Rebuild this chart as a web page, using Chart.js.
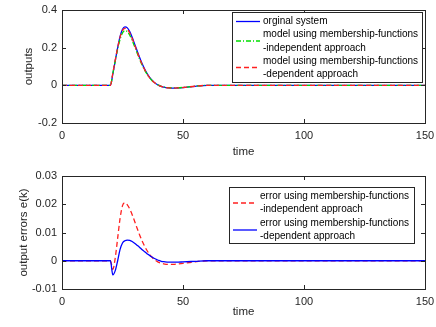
<!DOCTYPE html>
<html>
<head>
<meta charset="utf-8">
<script src="https://cdn.jsdelivr.net/npm/chart.js@4/dist/chart.umd.min.js"></script>
<style>
  body { margin: 0; background: #fff; }
  #wrap { position: relative; width: 436px; height: 327px; }
  .box { position: absolute; left: 0; width: 436px; }
</style>
</head>
<body>
<div id="wrap">
  <div class="box" style="top:0;height:163px"><canvas id="outputs"></canvas></div>
  <div class="box" style="top:163px;height:164px"><canvas id="errors"></canvas></div>
</div>
<script>
// data
const time = [0, 20, 21, 22, 23, 24, 25, 26, 27, 28, 29, 30, 31, 32, 33, 34, 35, 36, 37, 38, 39, 40, 41, 42, 44, 46, 48, 50, 55, 60, 150];
const original = [0, 0, 0.06, 0.13, 0.2, 0.26, 0.298, 0.31, 0.305, 0.285, 0.255, 0.22, 0.185, 0.15, 0.118, 0.09, 0.066, 0.046, 0.03, 0.017, 0.007, 0, -0.006, -0.01, -0.014, -0.015, -0.014, -0.012, -0.005, 0, 0];
const modelIndep = [0, 0, 0.063, 0.129, 0.192, 0.245, 0.2785, 0.2895, 0.2852, 0.2667, 0.2387, 0.206, 0.1734, 0.1407, 0.1108, 0.0846, 0.0622, 0.0435, 0.0286, 0.0165, 0.0071, 0.0006, -0.0051, -0.0089, -0.0127, -0.0137, -0.0129, -0.0111, -0.0046, 0, 0];
const modelDep = [0, 0, 0.065, 0.1335, 0.2, 0.256, 0.2917, 0.3029, 0.2977, 0.2778, 0.2482, 0.2138, 0.1795, 0.1452, 0.114, 0.0867, 0.0634, 0.044, 0.0286, 0.0161, 0.0065, -0.0001, -0.0058, -0.0097, -0.0135, -0.0145, -0.0135, -0.0116, -0.0048, 0, 0];
const errIndep = [0, 0, -0.003, 0.001, 0.008, 0.015, 0.0195, 0.0205, 0.0198, 0.0183, 0.0163, 0.014, 0.0116, 0.0093, 0.0072, 0.0054, 0.0038, 0.0025, 0.0014, 0.0005, -0.0001, -0.0006, -0.0009, -0.0011, -0.0013, -0.0013, -0.0011, -0.0009, -0.0004, 0, 0];
const errDep = [0, 0, -0.005, -0.0035, 0, 0.004, 0.0063, 0.0071, 0.0073, 0.0072, 0.0068, 0.0062, 0.0055, 0.0048, 0.004, 0.0033, 0.0026, 0.002, 0.0014, 0.0009, 0.0005, 0.0001, -0.0002, -0.0003, -0.0005, -0.0005, -0.0005, -0.0004, -0.0002, 0, 0];

const xTicks = [0, 50, 100, 150];
const outTicks = [-0.2, 0, 0.2, 0.4];
const errTicks = [-0.01, 0, 0.01, 0.02, 0.03];

const FONT = "'Liberation Sans', Arial, sans-serif";
const AX = "#262626";

const pts = (ys) => time.map((t, i) => ({ x: t, y: ys[i] }));

// box around the axes with inward tick marks (MATLAB style)
const boxPlugin = {
  id: "boxPlugin",
  afterDraw(chart) {
    const { ctx, chartArea: a, scales } = chart;
    ctx.save();
    ctx.strokeStyle = AX;
    ctx.lineWidth = 1;
    ctx.strokeRect(Math.round(a.left) + 0.5, Math.round(a.top) + 0.5, Math.round(a.right - a.left), Math.round(a.bottom - a.top));
    ctx.beginPath();
    scales.x.ticks.forEach((t) => {
      const px = Math.round(scales.x.getPixelForValue(t.value)) + 0.5;
      ctx.moveTo(px, a.bottom); ctx.lineTo(px, a.bottom - 4);
      ctx.moveTo(px, a.top); ctx.lineTo(px, a.top + 4);
    });
    scales.y.ticks.forEach((t) => {
      const py = Math.round(scales.y.getPixelForValue(t.value)) + 0.5;
      ctx.moveTo(a.left, py); ctx.lineTo(a.left + 4, py);
      ctx.moveTo(a.right, py); ctx.lineTo(a.right - 4, py);
    });
    ctx.stroke();
    ctx.restore();
  },
};

// legend box with two-line entries
const boxLegend = {
  id: "boxLegend",
  afterDraw(chart, args, opts) {
    const { ctx } = chart;
    ctx.save();
    ctx.fillStyle = "#fff";
    ctx.fillRect(opts.x, opts.y, opts.w, opts.h);
    ctx.strokeStyle = AX;
    ctx.lineWidth = 1;
    ctx.strokeRect(opts.x + 0.5, opts.y + 0.5, opts.w, opts.h);
    ctx.font = "10px " + FONT;
    ctx.textBaseline = "middle";
    ctx.fillStyle = "#000";
    opts.lines.forEach((txt, i) => {
      ctx.fillText(txt, opts.x + 31, opts.y + 9.5 + i * 13.2);
    });
    opts.items.forEach((it) => {
      const ds = chart.data.datasets[it.ds];
      ctx.strokeStyle = ds.borderColor;
      ctx.lineWidth = 1.3;
      ctx.setLineDash(ds.borderDash || []);
      ctx.beginPath();
      ctx.moveTo(opts.x + 4, opts.y + it.y);
      ctx.lineTo(opts.x + 28, opts.y + it.y);
      ctx.stroke();
    });
    ctx.restore();
  },
};

function xScale(titlePad, h) {
  return {
    type: "linear",
    min: 0, max: 150,
    afterBuildTicks: (s) => { s.ticks = xTicks.map((v) => ({ value: v })); },
    grid: { display: false, drawTicks: false },
    border: { display: false },
    ticks: { color: AX, padding: 6, font: { family: FONT, size: 11 } },
    title: { display: true, text: "time", color: AX, padding: { top: 0, bottom: titlePad }, font: { family: FONT, size: 11.5 } },
    afterFit: (s) => { s.height = h; s.paddingLeft = 0; s.paddingRight = 0; },
  };
}

function yScale(min, max, ticks, label, w, fmt) {
  return {
    min: min, max: max,
    afterBuildTicks: (s) => { s.ticks = ticks.map((v) => ({ value: v })); },
    grid: { display: false, drawTicks: false },
    border: { display: false },
    ticks: { color: AX, padding: 5, font: { family: FONT, size: 11 }, callback: fmt },
    title: { display: true, text: label, color: AX, padding: 0, font: { family: FONT, size: 11.5 } },
    afterFit: (s) => { s.width = w; s.paddingTop = 0; s.paddingBottom = 0; },
  };
}

const lineBase = { pointRadius: 0, borderWidth: 1.3, fill: false, cubicInterpolationMode: "monotone" };

new Chart(document.getElementById("outputs"), {
  type: "line",
  data: {
    datasets: [
      Object.assign({ label: "orginal system", data: pts(original), borderColor: "#0000ff", order: 2 }, lineBase),
      Object.assign({ label: "model using membership-functions -independent approach", data: pts(modelIndep), borderColor: "#00dd00", borderDash: [5, 2, 1, 2], order: 1 }, lineBase),
      Object.assign({ label: "model using membership-functions -dependent approach", data: pts(modelDep), borderColor: "#ff2020", borderDash: [5, 3], order: 0 }, lineBase),
    ],
  },
  options: {
    responsive: true,
    maintainAspectRatio: false,
    animation: false,
    layout: { padding: { left: 22, right: 11, top: 10, bottom: 0 } },
    scales: {
      x: xScale(4, 40),
      y: yScale(-0.2, 0.4, outTicks, "outputs", 40, (v) => (v === 0 ? "0" : v.toFixed(1))),
    },
    plugins: {
      legend: { display: false },
      tooltip: { enabled: false },
      boxLegend: {
        x: 232, y: 12, w: 190, h: 70,
        lines: ["orginal system", "model using membership-functions", "-independent approach", "model using membership-functions", "-dependent approach"],
        items: [{ ds: 0, y: 9.5 }, { ds: 1, y: 29 }, { ds: 2, y: 55.5 }],
      },
    },
  },
  plugins: [boxPlugin, boxLegend],
});

new Chart(document.getElementById("errors"), {
  type: "line",
  data: {
    datasets: [
      Object.assign({ label: "error using membership-functions -independent approach", data: pts(errIndep), borderColor: "#ff2020", borderDash: [5, 3], order: 1 }, lineBase),
      Object.assign({ label: "error using membership-functions -dependent approach", data: pts(errDep), borderColor: "#0000ff", order: 0 }, lineBase),
    ],
  },
  options: {
    responsive: true,
    maintainAspectRatio: false,
    animation: false,
    layout: { padding: { left: 17, right: 11, top: 13, bottom: 0 } },
    scales: {
      x: xScale(8, 38),
      y: yScale(-0.01, 0.03, errTicks, "output errors e(k)", 45, (v) => (v === 0 ? "0" : v.toFixed(2))),
    },
    plugins: {
      legend: { display: false },
      tooltip: { enabled: false },
      boxLegend: {
        x: 229, y: 24, w: 185, h: 56,
        lines: ["error using membership-functions", "-independent approach", "error using membership-functions", "-dependent approach"],
        items: [{ ds: 0, y: 16 }, { ds: 1, y: 43 }],
      },
    },
  },
  plugins: [boxPlugin, boxLegend],
});
</script>
</body>
</html>
